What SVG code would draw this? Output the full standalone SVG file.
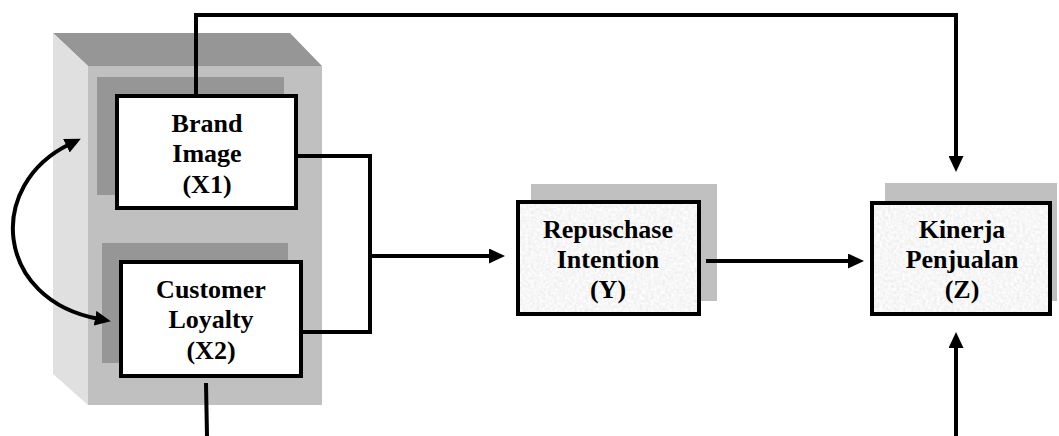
<svg xmlns="http://www.w3.org/2000/svg" width="1059" height="436" viewBox="0 0 1059 436">
  <style>
    .box { fill: #ffffff; stroke: #000000; stroke-width: 4; }
    .tbox { fill: none; stroke: #000000; stroke-width: 4; }
    .shadow-dark { fill: #969696; }
    .shadow-light { fill: #c0c0c0; }
    .conn { fill: none; stroke: #000000; stroke-width: 4; }
    .label { font-family: "Liberation Serif", "Times New Roman", serif; font-weight: bold; font-size: 26px; fill: #000000; text-anchor: middle; }
  </style>
  <defs>
    <marker id="arrow" viewBox="0 0 16 15" refX="4" refY="7.5" markerWidth="16" markerHeight="15" markerUnits="userSpaceOnUse" orient="auto-start-reverse">
      <path d="M0,0 L16,7.5 L0,15 z" fill="#000000"/>
    </marker>
    <filter id="tex" x="0" y="0" width="100%" height="100%">
      <feTurbulence type="fractalNoise" baseFrequency="0.35" numOctaves="2" seed="3" result="n"/>
      <feColorMatrix in="n" type="matrix" values="0.25 0 0 0 0.8  0.25 0 0 0 0.8  0.25 0 0 0 0.8  0 0 0 0 1" result="g"/>
      <feComposite in="g" in2="SourceGraphic" operator="in"/>
    </filter>
  </defs>

  <rect width="1059" height="436" fill="#ffffff"/>

  <!-- 3D container block -->
  <g id="container">
    <polygon points="53,33 290,33 322,66 88,66" fill="#969696"/>
    <polygon points="53,33 88,66 88,405 53,374" fill="#e0e0e0"/>
    <rect x="88" y="66" width="234" height="339" fill="#c0c0c0"/>
  </g>

  <g id="brand-image">
    <rect class="shadow-dark" x="97" y="77" width="187" height="118"/>
    <rect class="box" x="117" y="96" width="179" height="112"/>
    <text class="label" x="207" y="132">Brand</text>
    <text class="label" x="207" y="162">Image</text>
    <text class="label" x="207" y="193">(X1)</text>
  </g>

  <g id="customer-loyalty">
    <rect class="shadow-dark" x="102" y="243" width="186" height="120"/>
    <rect class="box" x="121" y="262" width="180" height="114"/>
    <text class="label" x="211" y="298">Customer</text>
    <text class="label" x="211" y="328">Loyalty</text>
    <text class="label" x="211" y="359">(X2)</text>
  </g>

  <g id="repurchase-intention">
    <rect class="shadow-light" x="531" y="184" width="186" height="117"/>
    <rect x="518" y="202" width="181" height="112" fill="#ebebeb" filter="url(#tex)"/>
    <rect class="tbox" x="518" y="202" width="181" height="112"/>
    <text class="label" x="608" y="238">Repuschase</text>
    <text class="label" x="608" y="268">Intention</text>
    <text class="label" x="608" y="298">(Y)</text>
  </g>

  <g id="kinerja-penjualan">
    <rect class="shadow-light" x="885" y="183" width="172" height="118"/>
    <rect x="872" y="203" width="178" height="111" fill="#ebebeb" filter="url(#tex)"/>
    <rect class="tbox" x="872" y="203" width="178" height="111"/>
    <text class="label" x="962" y="238">Kinerja</text>
    <text class="label" x="962" y="268">Penjualan</text>
    <text class="label" x="962" y="298">(Z)</text>
  </g>

  <g id="connectors">
    <path class="conn" d="M298,156 H370 V332 H303"/>
    <path class="conn" d="M370,256 H493" marker-end="url(#arrow)"/>
    <path class="conn" d="M706,261 H852" marker-end="url(#arrow)"/>
    <path class="conn" d="M196,94 V15 H956 V160" marker-end="url(#arrow)"/>
    <path class="conn" d="M956,436 V344" marker-end="url(#arrow)"/>
    <path class="conn" d="M206,383 L207,436"/>
    <path class="conn" d="M70,144 C-15,185 -5,300 99,319" marker-start="url(#arrow)" marker-end="url(#arrow)"/>
  </g>
</svg>
